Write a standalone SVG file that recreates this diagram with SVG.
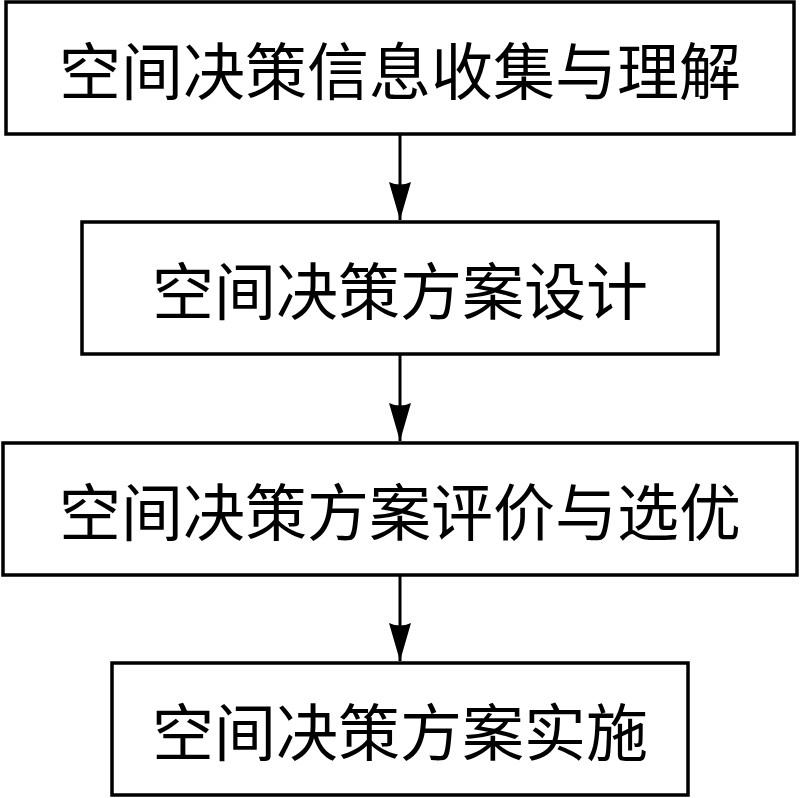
<svg xmlns="http://www.w3.org/2000/svg" width="800" height="798" viewBox="0 0 800 798">
<style>
.box{fill:#fff;stroke:#000;stroke-width:3.5}
.lbl{font-family:"Noto Sans CJK SC","Noto Sans CJK JP",sans-serif;font-size:62px;fill:#000;text-anchor:middle;dominant-baseline:central}
.conn{stroke:#000;stroke-width:3;fill:none}
</style>
<defs>
<marker id="ah" markerUnits="userSpaceOnUse" markerWidth="40" markerHeight="24" viewBox="0 0 40 24" refX="38" refY="12" orient="auto">
<path d="M0,1 L38,12 L0,23 Q5,12 0,1 Z" fill="#000"/>
</marker>
</defs>
<rect width="800" height="798" fill="#fff"/>
<g id="connectors">
<line class="conn" x1="400" y1="135" x2="400" y2="220" marker-end="url(#ah)"/>
<line class="conn" x1="400" y1="355" x2="400" y2="441" marker-end="url(#ah)"/>
<line class="conn" x1="400" y1="576" x2="400" y2="661" marker-end="url(#ah)"/>
</g>
<g id="node1">
<rect class="box" x="6" y="2" width="788" height="132"/>
<text class="lbl" x="400" y="68">空间决策信息收集与理解</text>
</g>
<g id="node2">
<rect class="box" x="82" y="222" width="636" height="132"/>
<text class="lbl" x="400" y="288">空间决策方案设计</text>
</g>
<g id="node3">
<rect class="box" x="3" y="443" width="794" height="132"/>
<text class="lbl" x="400" y="509">空间决策方案评价与选优</text>
</g>
<g id="node4">
<rect class="box" x="112" y="663" width="576" height="132"/>
<text class="lbl" x="400" y="729">空间决策方案实施</text>
</g>
</svg>
